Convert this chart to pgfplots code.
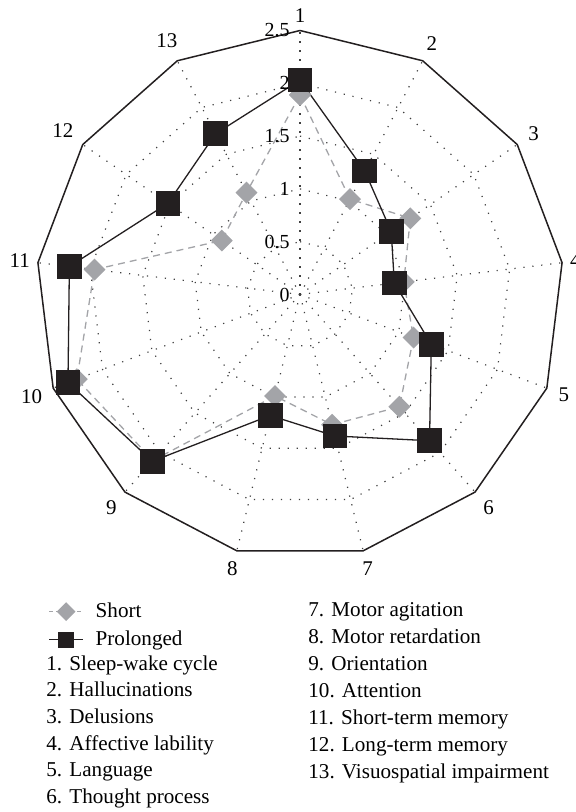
\documentclass[border=0pt]{standalone}
\usepackage{fontspec}
\setmainfont{Liberation Serif}
\usepackage{pgfplots}
\usepackage{pgfplotstable}
\pgfplotsset{compat=1.18}
\usepgfplotslibrary{polar}

\definecolor{shortgray}{RGB}{163,164,168}
\definecolor{longblack}{RGB}{35,31,32}

% angle of each of the 13 spokes (1 at top, clockwise); last row closes the polygon
\pgfplotstableread{
ang    short  long
90     1.89   2.03
62.31  1.02   1.32
34.62  1.27   1.05
6.92   0.99   0.90
339.23 1.15   1.33
311.54 1.42   1.85
283.85 1.27   1.38
256.15 0.99   1.18
228.46 2.10   2.11
200.77 2.26   2.35
173.08 1.96   2.20
145.38 0.90   1.52
117.69 1.09   1.72
90     1.89   2.03
}\deliriumdata

\tikzset{
    radgrid/.style={black!75, line width=0.6bp, dash pattern=on 0.6bp off 3.9bp},
    shortstyle/.style={shortgray, line width=0.65bp, dash pattern=on 3.5bp off 2.5bp},
    longstyle/.style={longblack, line width=0.65bp},
}

\begin{document}
\begin{tikzpicture}
\path[use as bounding box] (-150bp,-258.75bp) rectangle (138bp,147.25bp);
\begin{polaraxis}[
    at={(0,0)}, anchor=origin,
    scale only axis, width=264bp, height=264bp,
    xmin=0, xmax=360, ymin=0, ymax=2.5,
    xtick={90,62.31,34.62,6.92,339.23,311.54,283.85,256.15,228.46,200.77,173.08,145.38,117.69},
    xticklabels={1,2,3,4,5,6,7,8,9,10,11,12,13},
    ytick=\empty,
    xmajorgrids=false, ymajorgrids=false,
    axis line style={draw=none},
    major tick length=0pt,
    clip=false,
    xticklabel style={font=\fontsize{10.5}{12}\selectfont, inner sep=4pt},
]
% dotted polygonal rings and spokes
\addplot[radgrid] table[x=ang, y expr=0.5] {\deliriumdata};
\addplot[radgrid] table[x=ang, y expr=1] {\deliriumdata};
\addplot[radgrid] table[x=ang, y expr=1.5] {\deliriumdata};
\addplot[radgrid] table[x=ang, y expr=2] {\deliriumdata};
\pgfplotsinvokeforeach{90,62.31,34.62,6.92,339.23,311.54,283.85,256.15,228.46,200.77,173.08,145.38,117.69}{
    \addplot[radgrid] coordinates {(#1,0) (#1,2.5)};
}
% outer frame
\addplot[longblack, line width=0.75bp] table[x=ang, y expr=2.5] {\deliriumdata};

\addplot[shortstyle, mark=square*, mark size=3.55bp,
    mark options={solid, fill=shortgray, draw=none, rotate=45}]
    table[x=ang, y=short] {\deliriumdata};

\addplot[longstyle, mark=square*, mark size=5.85bp,
    mark options={fill=longblack, draw=none}]
    table[x=ang, y=long] {\deliriumdata};

% radial scale along spoke 1
\pgfplotsinvokeforeach{0,0.5,1,1.5,2,2.5}{
    \node[anchor=east, inner sep=0pt, xshift=-5bp, font=\fontsize{10}{12}\selectfont] at (axis cs:90,#1) {#1};
}
\end{polaraxis}

% legend for the two series
\begin{axis}[
    at={(-126bp,-153.1bp)}, anchor=north west,
    hide axis, scale only axis, width=20bp, height=10bp,
    xmin=0, xmax=1, ymin=0, ymax=1,
    legend style={
        at={(0,1)}, anchor=north west,
        draw=none, fill=none, inner sep=0pt,
        font=\fontsize{10.6}{13}\selectfont,
        row sep=3.6bp,
        nodes={inner sep=0pt, text height=8bp, text depth=2.5bp},
        /tikz/every odd column/.append style={column sep=6bp},
    },
    legend cell align=left,
]
\addlegendimage{shortgray, line width=0.65bp, dash pattern=on 2bp off 1.5bp,
    mark=square*, mark size=3bp, mark options={solid, fill=shortgray, draw=none, rotate=45}}
\addlegendentry{Short}
\addlegendimage{longstyle, mark=square*, mark size=3.65bp, mark options={fill=longblack, draw=none}}
\addlegendentry{Prolonged}
\end{axis}

\foreach \n/\t [count=\i from 0] in {1./Sleep-wake cycle, 2./Hallucinations, 3./Delusions, 4./Affective lability, 5./Language, 6./Thought process}{
    \node[anchor=base west, inner sep=0pt, font=\fontsize{10.6}{13}\selectfont] at (-127bp,-187.9bp-\i*13.3bp) {\n\hspace{3.6bp}\t};
}
\foreach \n/\t [count=\i from 0] in {7./Motor agitation, 8./Motor retardation, 9./Orientation, 10./Attention, 11./Short-term memory, 12./Long-term memory, 13./Visuospatial impairment}{
    \node[anchor=base west, inner sep=0pt, font=\fontsize{10.6}{13}\selectfont] at (4bp,-161.1bp-\i*13.47bp) {\n\hspace{3.6bp}\t};
}
\end{tikzpicture}
\end{document}
